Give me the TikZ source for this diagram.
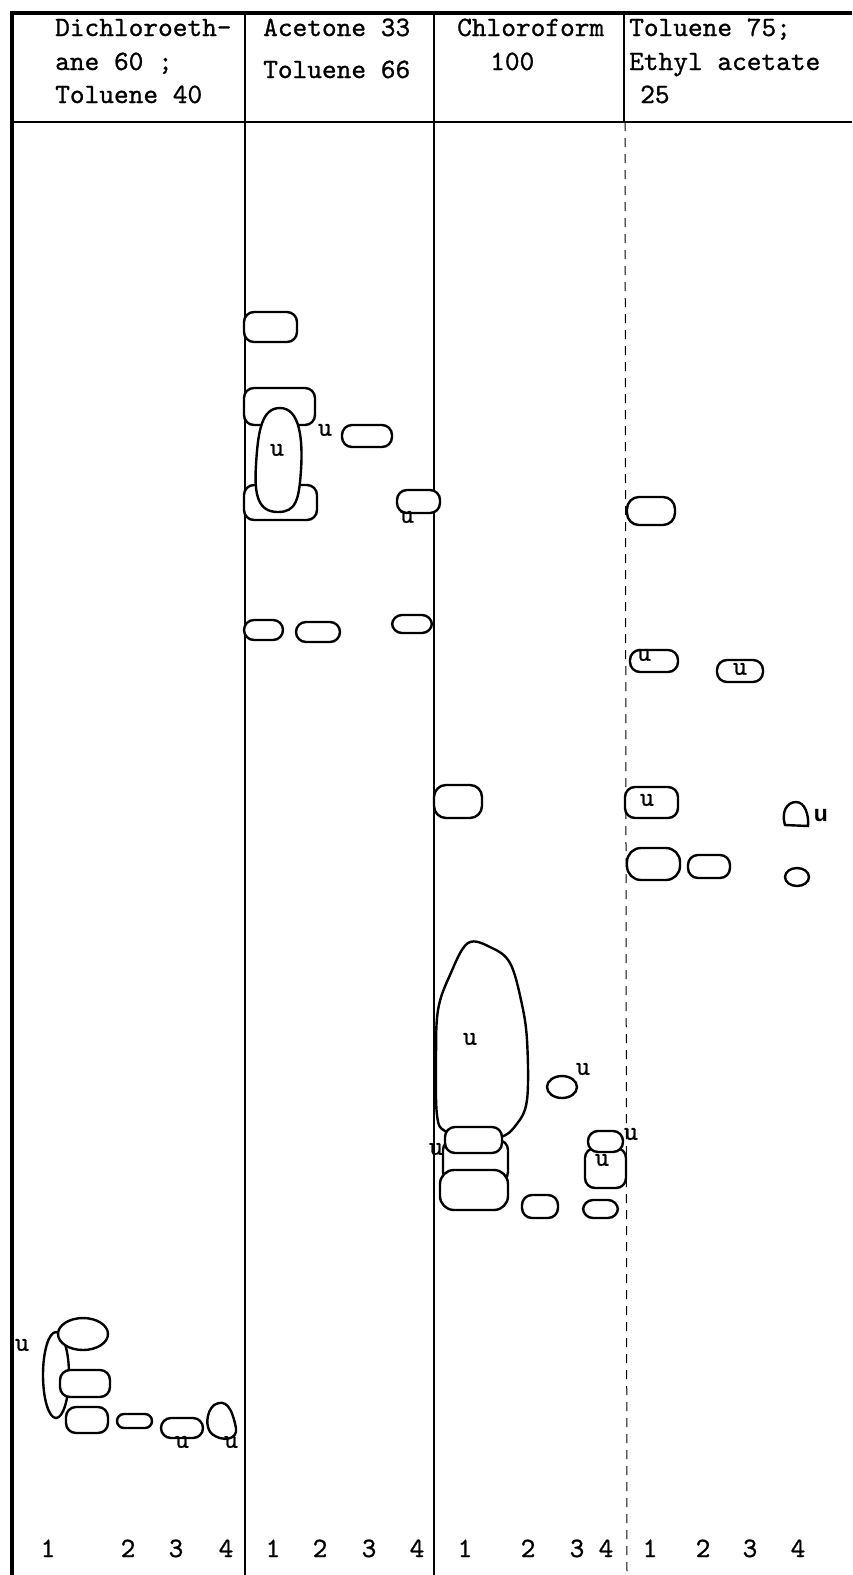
\documentclass[tikz,border=0pt]{standalone}
\usepackage{fontspec}
\newfontfamily\tw[FakeBold=0.9]{lmmono10-regular.otf}
\newfontfamily\sfu{Liberation Sans}
\begin{document}
\begin{tikzpicture}[x=1pt,y=-1pt,
  frameline/.style={line width=3.4pt},
  ruleline/.style={line width=1.8pt},
  lanediv/.style={line width=1pt, dash pattern=on 9pt off 7pt},
  spot/.style={line width=2.4pt, rounded corners=10pt, fill=white},
  spotl/.style={line width=2.4pt, fill=white},
  hdr/.style={font=\tw\fontsize{28}{32}\selectfont, anchor=base west, inner sep=0pt},
  num/.style={font=\tw\fontsize{28}{32}\selectfont, anchor=base, inner sep=0pt},
  ul/.style={font=\tw\fontsize{27}{30}\selectfont, inner sep=0pt}]
\useasboundingbox (0,0) rectangle (852,1575);
% frame
\draw[ruleline] (12,122) -- (852,122);
\draw[ruleline] (245,13) -- (245,1575);
\draw[ruleline] (434,13) -- (434,1575);
\draw[ruleline] (624,13) -- (624,122);
\draw[lanediv] (625,122) -- (627,1575);
\draw[frameline] (852,13) -- (12,13) -- (12,1575);
% header
\node[hdr] (h1a) at (55,36) {Dichloroeth-};
\node[hdr] (h1b) at (55,70) {ane 60 ;};
\node[hdr] (h1c) at (55,103) {Toluene 40};
\node[hdr] (h2a) at (263,36) {Acetone 33};
\node[hdr] (h2b) at (263,78) {Toluene 66};
\node[hdr] (h3a) at (457,36) {Chloroform};
\node[hdr] (h3b) at (490,70) {100};
\node[hdr] (h4a) at (629,36) {Toluene 75;};
\node[hdr] (h4b) at (629,70) {Ethyl acetate};
\node[hdr] (h4c) at (640,103) {25};
% lane numbers
\foreach \x/\t [count=\i] in {48/1,128/2,176/3,226/4,273/1,320/2,369/3,417/4,465/1,528/2,577/3,606/4,650/1,703/2,750/3,798/4}
  \node[num] (n\i) at (\x,1557) {\t};
% ---- column 1 ----
\draw[spotl] (56,1375) ellipse [x radius=13, y radius=43];
\draw[spotl] (83,1334) ellipse [x radius=25, y radius=16];
\draw[spot] (60,1370) rectangle (110,1397);
\draw[spot] (66,1407) rectangle (108,1433);
\node[ul] (u1) at (22,1345) {u};
\draw[spot,rounded corners=7pt] (117,1414) rectangle (152,1428);
\draw[spot] (161,1418) rectangle (203,1438);
\node[ul] (u2) at (182,1442) {u};
\draw[spotl] (214,1405) .. controls (226,1398) and (232,1408) .. (236,1428)
  .. controls (238,1440) and (222,1442) .. (212,1434)
  .. controls (205,1428) and (206,1412) .. cycle;
\node[ul] (u3) at (231,1442) {u};
% ---- column 2 ----
\draw[spot] (244,312) rectangle (297,342);
\draw[spot] (244,388) rectangle (315,425);
\draw[spot] (244,485) rectangle (317,520);
\draw[spotl] (280,408) .. controls (300,408) and (303,440) .. (301,470)
  .. controls (299,500) and (296,512) .. (278,512)
  .. controls (258,512) and (254,495) .. (256,465)
  .. controls (258,430) and (262,408) .. cycle;
\node[ul] (u4) at (277,450) {u};
\node[ul] (u5) at (325,430) {u};
\draw[spot] (342,425) rectangle (392,447);
\draw[spot] (397,490) rectangle (440,513);
\node[ul] (u6) at (407,517) {u};
\draw[spot] (244,620) rectangle (283,640);
\draw[spot] (296,622) rectangle (340,642);
\draw[spot] (392,615) rectangle (432,633);
% ---- column 3 ----
\draw[spot,rounded corners=12pt] (434,785) rectangle (482,818);
\draw[spotl] plot[smooth cycle, tension=0.6] coordinates {(468,943) (492,948) (510,963) (521,1000) (527,1040) (527,1100) (516,1125) (500,1137) (470,1135) (445,1131) (437,1115) (436,1060) (438,1010) (450,975)};
\node[ul] (u7) at (470,1039) {u};
\draw[spot] (443,1140) rectangle (508,1182);
\draw[spot] (445,1127) rectangle (502,1153);
\draw[spot,rounded corners=14pt] (440,1170) rectangle (508,1210);
\node[ul] (u8) at (436,1149) {u};
\draw[spotl] (562,1087) ellipse [x radius=15, y radius=11];
\node[ul] (u9) at (583,1069) {u};
\draw[spot] (585,1148) rectangle (626,1188);
\draw[spot] (588,1131) rectangle (623,1152);
\node[ul] (u10) at (602,1160) {u};
\node[ul] (u11) at (631,1134) {u};
\draw[spot] (522,1195) rectangle (558,1218);
\draw[spot] (583,1200) rectangle (618,1218);
% ---- column 4 ----
\draw[spot,rounded corners=12pt] (627,497) rectangle (675,525);
\draw[spot] (630,650) rectangle (678,672);
\node[ul] (u12) at (644,655) {u};
\draw[spot] (717,660) rectangle (763,682);
\node[ul] (u13) at (740,669) {u};
\draw[spot] (625,787) rectangle (678,818);
\node[ul] (u14) at (647,800) {u};
\draw[spotl] (785,825) .. controls (781,812) and (787,802) .. (796,802)
  .. controls (805,802) and (809,815) .. (808,826) -- cycle;
\node[font=\sfu\bfseries\fontsize{23}{26}\selectfont, inner sep=0pt] (u15) at (821,816) {u};
\draw[spot,rounded corners=14pt] (627,848) rectangle (680,880);
\draw[spot] (688,855) rectangle (730,878);
\draw[spotl] (797,877) ellipse [x radius=12, y radius=9];
\end{tikzpicture}
\end{document}
